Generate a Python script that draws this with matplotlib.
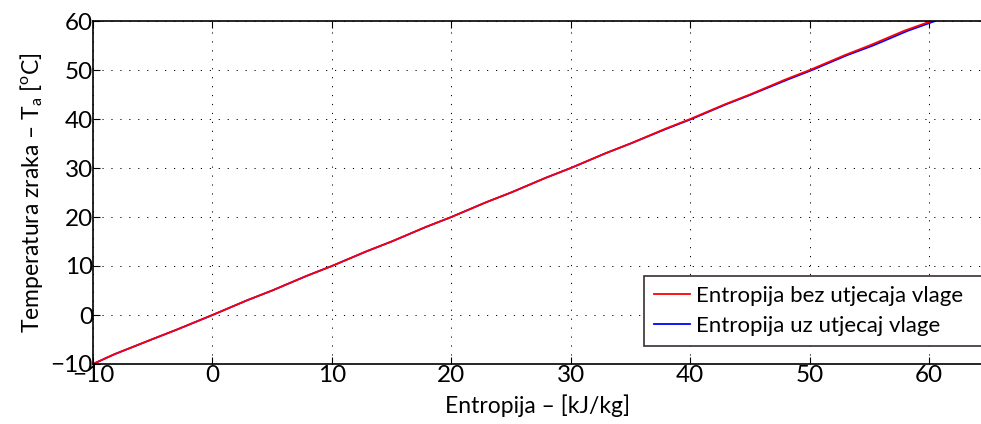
import numpy as np
import matplotlib
matplotlib.use("Agg")
import matplotlib.pyplot as plt

plt.rcParams['font.family'] = ['Lato', 'DejaVu Sans']
plt.rcParams['mathtext.fontset'] = 'custom'
plt.rcParams['mathtext.rm'] = 'Lato'

# temperature [C] and entropy [kJ/kg]
temp = [-10, -8, -5, -3, 0, 3, 5, 8, 10, 13, 15, 18, 20, 23, 25, 28, 30,
        33, 35, 38, 40, 43, 45, 48, 50, 53, 55, 58, 60]
s_dry = [-10.0, -8.2, -5.1, -3.0, 0.0, 2.9, 5.0, 7.9, 10.0, 12.9, 15.0, 17.9,
         20.0, 22.9, 25.0, 27.9, 30.0, 32.9, 35.0, 37.9, 40.0, 42.9, 45.0,
         47.9, 50.0, 52.9, 55.0, 57.9, 60.2]
s_wet = [-10.0, -8.2, -5.1, -3.0, 0.0, 2.9, 5.0, 7.9, 10.0, 12.9, 15.0, 17.9,
         20.0, 22.9, 25.0, 27.9, 30.0, 32.9, 35.0, 38.0, 40.1, 43.0, 45.1,
         48.1, 50.2, 53.1, 55.3, 58.2, 60.5]

xticks = [-10, 0, 10, 20, 30, 40, 50, 60]
yticks = [-10, 0, 10, 20, 30, 40, 50, 60]

fig = plt.figure(figsize=(9.81, 4.24), dpi=100)
ax = fig.add_axes([93/981, 1-364/424, (983-93)/981, (364-21)/424])

l_wet, = ax.plot(s_wet, temp, color='blue', lw=1.3, label='Entropija uz utjecaj vlage')
l_dry, = ax.plot(s_dry, temp, color='red', lw=1.3, label='Entropija bez utjecaja vlage')

ax.set_xlim(-10, 64.5)
ax.set_ylim(-10, 60)
ax.set_xticks(xticks)
ax.set_yticks(yticks)
ax.tick_params(direction='in', length=5, width=0.8, labelsize=17.5, pad=1,
               top=True, right=False)
ax.tick_params(axis='y', pad=0)
for sp in ax.spines.values():
    sp.set_linewidth(1.2)

ax.grid(True, color='black', lw=0.7, linestyle=(0, (1.2, 8)))

ax.set_xlabel('Entropija – [kJ/kg]', fontsize=16.5, labelpad=6)
ax.set_ylabel(r'Temperatura zraka – T$_\mathrm{a}$ [$^\mathrm{o}$C]', fontsize=16.5, labelpad=4)

# legend box runs past the right edge like in the original
leg = ax.legend([l_dry, l_wet], [l_dry.get_label(), l_wet.get_label()],
                loc='lower left', mode='expand',
                bbox_to_anchor=(644/981, 1-346/424, (992-644)/981, 78/424),
                bbox_transform=fig.transFigure, borderaxespad=0,
                fontsize=16, fancybox=False, framealpha=1, edgecolor='#3a3030',
                handlelength=1.6, handletextpad=0.3, labelspacing=0.45,
                borderpad=0.45)
leg.get_frame().set_linewidth(1.2)

fig.savefig('out.png', dpi=100)
